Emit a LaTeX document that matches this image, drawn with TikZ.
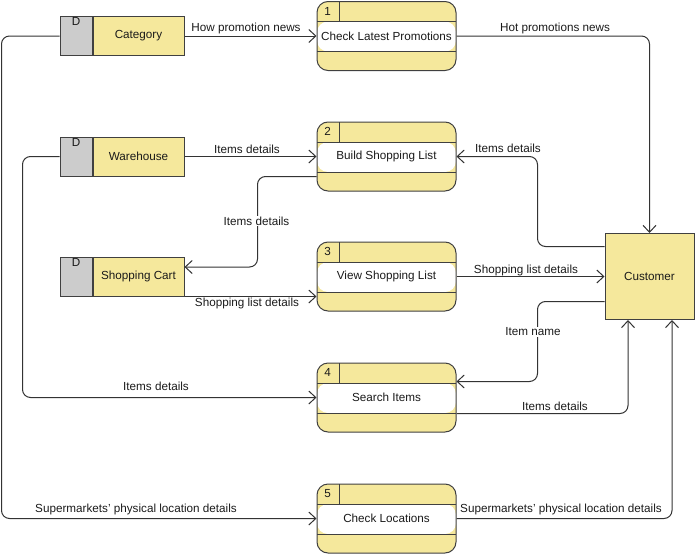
\documentclass[tikz,border=0pt]{standalone}
\usepackage{fontspec}
\setmainfont{Liberation Sans}
\usetikzlibrary{arrows.meta,calc}
\definecolor{yel}{HTML}{F5E89C}
\definecolor{gr}{HTML}{CCCCCC}
\definecolor{bd}{HTML}{404040}
\definecolor{ln}{HTML}{333333}
\definecolor{tx}{HTML}{1A1A1A}
\begin{document}
\begin{tikzpicture}[x=1pt,y=-1pt,
  font=\fontsize{11.7}{14}\selectfont, text=tx,
  every node/.style={inner sep=0pt},
  proc/.style={draw=bd, fill=yel, line width=1pt, rounded corners=11pt,
    minimum width=139pt, minimum height=69pt,
    path picture={
      \fill[white] ([yshift=-20pt]path picture bounding box.north west) rectangle ([yshift=19pt]path picture bounding box.south east);
      \draw[bd, line width=1pt, sharp corners]
        ([yshift=-20pt]path picture bounding box.north west) -- ([yshift=-20pt]path picture bounding box.north east)
        ([yshift=19pt]path picture bounding box.south west) -- ([yshift=19pt]path picture bounding box.south east)
        ([xshift=22pt]path picture bounding box.north west) -- ([xshift=22pt,yshift=-20pt]path picture bounding box.north west);
    }},
  num/.style={},
  ds/.style={draw=bd, fill=yel, line width=1pt, minimum width=91pt, minimum height=39pt},
  dsd/.style={draw=bd, fill=gr, line width=1pt, minimum width=32pt, minimum height=39pt},
  ent/.style={draw=bd, fill=yel, line width=1pt, minimum width=89pt, minimum height=86pt},
  flow/.style={draw=ln, line width=1pt, rounded corners=8pt, -{Straight Barb[length=7pt,width=13pt]}},
  lbl/.style={},
  lblw/.style={fill=white, inner sep=1pt}
]
\useasboundingbox (0,0) rectangle (696,554);

% processes
\node[proc] (p1) at (386.5,36) {Check Latest Promotions};
\node[proc] (p2) at (386.5,156.5) {Build Shopping List};
\node[proc] (p3) at (386.5,276.5) {View Shopping List};
\node[proc] (p4) at (386.5,397.5) {Search Items};
\node[proc] (p5) at (386.5,518.5) {Check Locations};
\foreach \p/\n in {p1/1,p2/2,p3/3,p4/4,p5/5}
  \node[num] (\p n) at ([xshift=11pt,yshift=-10pt]\p.north west) {\n};

% data stores
\node[ds] (cat) at (138.5,36) {Category};
\node[dsd, anchor=east] (catd) at (cat.west) {};
\node[anchor=north] (catD) at ([yshift=-1.5pt]catd.north) {D};
\node[ds] (wh) at (138.5,156.5) {Warehouse};
\node[dsd, anchor=east] (whd) at (wh.west) {};
\node[anchor=north] (whD) at ([yshift=-1.5pt]whd.north) {D};
\node[ds] (sc) at (138.5,276.5) {Shopping Cart};
\node[dsd, anchor=east] (scd) at (sc.west) {};
\node[anchor=north] (scD) at ([yshift=-1.5pt]scd.north) {D};

% entity
\node[ent] (cus) at (649.5,276.5) {Customer};

% flows
\draw[flow] (cat.east) -- (p1.west);
\draw[flow] (p1.east) -| (cus.north);
\draw[flow] (catd.west) -- ++(-58,0) |- (p5.west);
\draw[flow] (wh.east) -- (p2.west);
\draw[flow] (whd.west) -- ++(-37,0) |- (p4.west);
\draw[flow] ([yshift=-20pt]p2.west) -| ([xshift=73pt,yshift=9.5pt]sc.east) -- ([yshift=9.5pt]sc.east);
\draw[flow] (sc.south east) -- (sc.south east -| p3.west);
\draw[flow] (p3.east) -- (cus.west);
\draw[flow] ([yshift=30pt]cus.west) -| ([xshift=81pt]p2.east) -- (p2.east);
\draw[flow] ([yshift=-25pt]cus.west) -| ([xshift=81pt,yshift=16pt]p4.east) -- ([yshift=16pt]p4.east);
\draw[flow] ([yshift=-16pt]p4.east) -| ([xshift=-21.5pt]cus.south);
\draw[flow] (p5.east) -| ([xshift=22.5pt]cus.south);

% labels
\node[lbl] (l1) at (246,28) {How promotion news};
\node[lbl] (l2) at (555,28) {Hot promotions news};
\node[lbl] (l3) at (136,509) {Supermarkets' physical location details};
\node[lbl] (l4) at (247,149) {Items details};
\node[lbl] (l5) at (156,386) {Items details};
\node[lblw] (l6) at (256.5,221) {Items details};
\node[lbl] (l7) at (247,303) {Shopping list details};
\node[lbl] (l8) at (526,270) {Shopping list details};
\node[lbl] (l9) at (508,148) {Items details};
\node[lblw] (l10) at (533,332) {Item name};
\node[lbl] (l11) at (555,406) {Items details};
\node[lbl] (l12) at (561,509) {Supermarkets' physical location details};
\end{tikzpicture}
\end{document}
